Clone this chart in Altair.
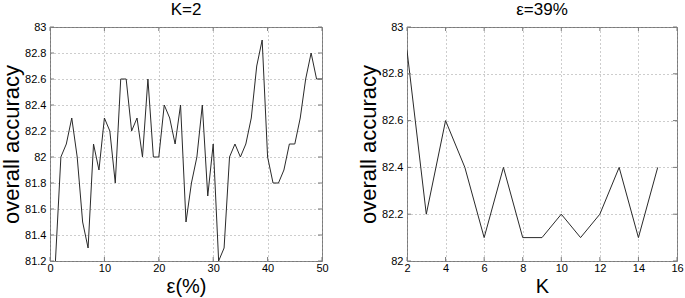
import altair as alt
import pandas as pd

# ---- data ----
eps = list(range(1, 51))
acc_k2 = [81.2, 82.0, 82.1, 82.3, 82.0, 81.5, 81.3, 82.1, 81.9, 82.3,
          82.2, 81.8, 82.6, 82.6, 82.2, 82.3, 82.0, 82.6, 82.0, 82.0,
          82.4, 82.3, 82.1, 82.4, 81.5, 81.8, 82.0, 82.4, 81.7, 82.1,
          81.2, 81.3, 82.0, 82.1, 82.0, 82.1, 82.3, 82.7, 82.9, 82.0,
          81.8, 81.8, 81.9, 82.1, 82.1, 82.3, 82.6, 82.8, 82.6, 82.6]

ks = list(range(2, 16))
acc_e39 = [82.9, 82.2, 82.6, 82.4, 82.1, 82.4, 82.1, 82.1, 82.2, 82.1,
           82.2, 82.4, 82.1, 82.4]

left_xticks = [0, 10, 20, 30, 40, 50]
left_yticks = [81.2, 81.4, 81.6, 81.8, 82.0, 82.2, 82.4, 82.6, 82.8, 83.0]
right_xticks = [2, 4, 6, 8, 10, 12, 14, 16]
right_yticks = [82.0, 82.2, 82.4, 82.6, 82.8, 83.0]

FONT = "Liberation Sans"
LINE = "#2a2a2a"
BOX = "#7a7a7a"
GRID = "#9a9a9a"
TICK_LEN = 4

YLABEL = "replace(format(datum.value, '.1f'), '.0', '')"


def panel(xs, ys, xdom, ydom, xticks, yticks, xtitle, title, w, h):
    df = pd.DataFrame({"x": xs, "y": ys})
    xscale = alt.Scale(domain=xdom, nice=False, zero=False)
    yscale = alt.Scale(domain=ydom, nice=False, zero=False)
    xaxis = alt.Axis(values=xticks, tickCount=50, title=xtitle, grid=True,
                     gridDash=[1, 3], gridColor=GRID, gridOpacity=1,
                     ticks=False, tickSize=0, domain=False, labelPadding=1,
                     format="d", labelOverlap=False, labelFont=FONT,
                     labelFontSize=11, labelColor="#000", titleFont=FONT,
                     titleFontSize=20, titleFontWeight="normal",
                     titlePadding=3, titleColor="#000", labelFlush=False)
    yaxis = alt.Axis(values=yticks, tickCount=50, title="overall accuracy",
                     grid=True, gridDash=[1, 3], gridColor=GRID,
                     gridOpacity=1, ticks=False, tickSize=0, domain=False,
                     labelPadding=4, labelExpr=YLABEL, labelOverlap=False,
                     labelFont=FONT, labelFontSize=11, labelColor="#000",
                     titleFont=FONT, titleFontSize=22,
                     titleFontWeight="normal", titlePadding=1,
                     titleColor="#000", labelFlush=False)
    line = alt.Chart(df).mark_line(color=LINE, strokeWidth=1, clip=True).encode(
        x=alt.X("x:Q", scale=xscale, axis=xaxis),
        y=alt.Y("y:Q", scale=yscale, axis=yaxis),
    )
    xt = pd.DataFrame({"x": xticks})
    yt = pd.DataFrame({"y": yticks})
    tx = alt.X("x:Q", scale=xscale)
    ty = alt.Y("y:Q", scale=yscale)
    bottom = alt.Chart(xt).mark_rule(color=BOX, strokeWidth=1).encode(
        x=tx, y=alt.value(h), y2=alt.value(h - TICK_LEN))
    top = alt.Chart(xt).mark_rule(color=BOX, strokeWidth=1).encode(
        x=tx, y=alt.value(0), y2=alt.value(TICK_LEN))
    left = alt.Chart(yt).mark_rule(color=BOX, strokeWidth=1).encode(
        y=ty, x=alt.value(0), x2=alt.value(TICK_LEN))
    right = alt.Chart(yt).mark_rule(color=BOX, strokeWidth=1).encode(
        y=ty, x=alt.value(w), x2=alt.value(w - TICK_LEN))
    return alt.layer(line, bottom, top, left, right).properties(
        width=w, height=h,
        title=alt.TitleParams(title, font=FONT, fontSize=17,
                              fontWeight="normal", color="#000", offset=2),
    )


p1 = panel(eps, acc_k2, [0, 50], [81.2, 83.0], left_xticks, left_yticks,
           "ε(%)", "K=2", 272, 234)
p2 = panel(ks, acc_e39, [2, 16], [82.0, 83.0], right_xticks, right_yticks,
           "K", "ε=39%", 270, 234)

chart = alt.hconcat(p1, p2, spacing=28).properties(
    padding={"left": 0, "top": 0, "right": 0, "bottom": 0},
    background="white",
).configure_view(stroke=BOX, strokeWidth=1)

chart.save("out.html", embed_options={"renderer": "svg", "actions": False})
